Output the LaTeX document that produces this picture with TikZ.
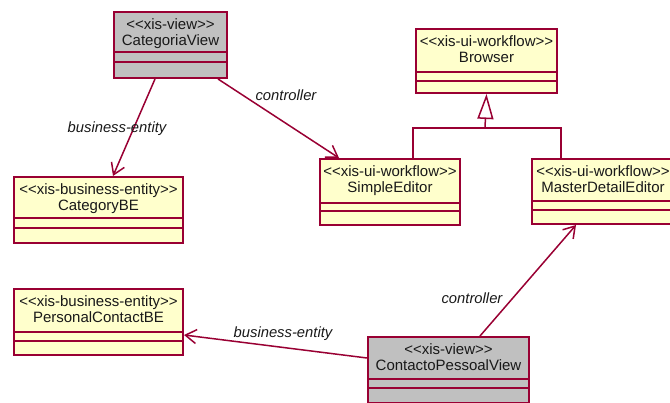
\documentclass[tikz,border=0pt]{standalone}
\usepackage{fontspec}
\setmainfont{Liberation Sans}
\usetikzlibrary{arrows.meta,calc}
\definecolor{umlline}{RGB}{153,0,51}
\definecolor{umlyellow}{RGB}{255,255,204}
\definecolor{umlgray}{RGB}{192,192,192}
\definecolor{umltext}{RGB}{25,25,25}
\tikzset{
  classbox/.style={draw=umlline, line width=2pt, rectangle, inner sep=0pt, anchor=north west},
  entitybox/.style={classbox, fill=umlyellow},
  viewbox/.style={classbox, fill=umlgray},
  classtext/.style={font=\fontsize{15}{17}\selectfont, text=umltext, anchor=base, inner sep=0pt},
  divider/.style={draw=umlline, line width=2pt},
  assoc/.style={draw=umlline, line width=1.5pt,
    -{Straight Barb[length=11pt,width=14pt,line width=1.5pt]}},
  genline/.style={draw=umlline, line width=1.5pt},
  role/.style={font=\fontsize{14.8}{17}\selectfont\itshape, text=umltext, inner sep=0pt},
}
% guillemet-free stereotype brackets
\newcommand\stereo[1]{<{}<#1>{}>}
% #1 style, #2 name, #3 x, #4 y, #5 width, #6 height, #7/#8 dividers, #9 stereotype, then title
\newcommand\umlclass[9]{%
  \node[#1, minimum width=#5pt, minimum height=#6pt] (#2) at (#3,#4) {};
  \draw[divider] ($(#2.north west)+(0,#7)$) -- ($(#2.north east)+(0,#7)$);
  \draw[divider] ($(#2.north west)+(0,#8)$) -- ($(#2.north east)+(0,#8)$);
  \node[classtext] (#2-st) at ($(#2.north)+(0,19)$) {\stereo{#9}};
  \umlclasstitle{#2}}
\newcommand\umlclasstitle[2]{\node[classtext] (#1-nm) at ($(#1.north)+(0,35)$) {#2};}
\begin{document}
\begin{tikzpicture}[x=1pt,y=-1pt]
\useasboundingbox (0,0) rectangle (670,403);
\clip (0,0) rectangle (670,403);

% classes
\umlclass{viewbox}{cv}{113}{11}{113}{66}{41}{51}{xis-view}{CategoriaView}
\umlclass{entitybox}{cbe}{13}{176}{169}{66}{42}{52}{xis-business-entity}{CategoryBE}
\umlclass{entitybox}{br}{415}{28}{141}{64}{44}{53}{xis-ui-workflow}{Browser}
\umlclass{entitybox}{se}{319}{158}{140}{66}{45}{53}{xis-ui-workflow}{SimpleEditor}
\umlclass{entitybox}{mde}{531}{158}{142}{65}{43}{52}{xis-ui-workflow}{MasterDetailEditor}
\umlclass{entitybox}{pcb}{13}{288}{169}{66}{44}{53}{xis-business-entity}{PersonalContactBE}
\umlclass{viewbox}{cpv}{367}{336}{161}{66}{43}{52}{xis-view}{ContactoPessoalView}

% generalization
\coordinate (gj) at (485,128);
\draw[genline] ($(se.north west)+(94,0)$) |- (gj) -| ($(mde.north west)+(30,0)$);
\draw[genline, -{Triangle[open,length=25pt,width=16pt,line width=1.5pt]}] (gj) -- (br.south);

% associations
\draw[assoc] ($(cv.south west)+(42,0)$) -- ($(cbe.north west)+(100,0)$);
\draw[assoc] ($(cv.south west)+(105,0)$) -- ($(se.north west)+(20,0)$);
\draw[assoc] ($(cpv.north west)+(113,0)$) -- ($(mde.south west)+(45,0)$);
\draw[assoc] ($(cpv.north west)+(0,22)$) -- ($(pcb.north east)+(0,47)$);

% role names
\node[role] (r1) at (286,95) {controller};
\node[role] (r2) at (117,129) {business-entity};
\node[role] (r3) at (472,298) {controller};
\node[role] (r4) at (283,334) {business-entity};
\end{tikzpicture}
\end{document}
